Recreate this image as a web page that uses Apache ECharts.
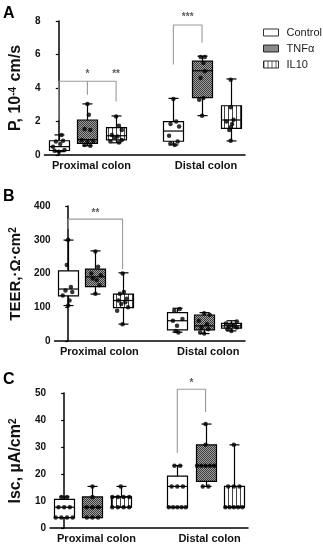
<!DOCTYPE html>
<html><head><meta charset="utf-8">
<script src="https://cdn.jsdelivr.net/npm/echarts@6/dist/echarts.min.js"></script>
<style>html,body{margin:0;padding:0;background:#fff}#c{width:323px;height:550px}</style>
</head><body><div id="c"></div>
<script>
// ---------- data ----------
const regions = ['Proximal colon', 'Distal colon'];
const treatments = ['Control', 'TNFα', 'IL10'];
const slotKeys = ['P-Control', 'P-TNF', 'P-IL10', 'gap', 'D-Control', 'D-TNF', 'D-IL10'];
const groupSlots = [0, 1, 2, 4, 5, 6];
const groupTreat = [0, 1, 2, 0, 1, 2];
const panelLetters = ['A', 'B', 'C'];
const yNames = ['P, 10{sup|-4} cm/s', 'TEER,·Ω·cm{sup|2}', 'Isc, µA/cm{sup|2}'];
const yMaxes = [8, 400, 50];
const yIntervals = [2, 100, 10];

// box stats: [min, q1, median, q3, max]
const boxA = [[0.2, 0.27, 0.5, 0.85, 1.2], [0.55, 0.7, 0.92, 2.09, 3.05], [0.73, 0.9, 1.15, 1.63, 2.33],
              [0.6, 0.82, 1.43, 1.99, 3.38], [2.35, 3.42, 5.03, 5.6, 5.9], [0.84, 1.59, 2.09, 2.94, 4.54]];
const ptsA = [[1.2, 0.85, 0.8, 0.65, 0.5, 0.3, 0.25, 0.2],
              [3.05, 2.4, 1.55, 1.5, 0.9, 0.85, 0.8, 0.6, 0.55],
              [2.3, 1.75, 1.5, 1.2, 1.1, 1.05, 0.9, 0.8, 0.75],
              [3.35, 2.0, 1.85, 1.7, 1.15, 0.8, 0.7, 0.6],
              [5.85, 5.85, 5.5, 5.0, 4.6, 3.4, 3.3, 2.35],
              [4.5, 2.85, 2.1, 2.0, 1.85, 1.65, 1.5, 0.85]];
const jitA = [[0.1, 0.15, -0.1, 0.05, -0.2, 0.2, -0.15, 0.0],
              [0.0, 0.05, -0.1, 0.1, -0.2, 0.2, 0.0, -0.1, 0.1],
              [0.0, 0.1, 0.2, -0.15, 0.05, -0.05, 0.2, -0.2, 0.1],
              [0.0, 0.1, -0.1, 0.2, -0.15, 0.15, -0.1, 0.05],
              [-0.05, 0.1, 0.05, 0.1, -0.05, 0.05, -0.1, 0.0],
              [0.0, 0.0, 0.1, -0.15, 0.05, 0.0, -0.05, 0.0]];

const boxB = [[105, 134, 154, 208, 299], [139, 161, 190, 213, 267], [50, 99, 120, 139, 202],
              [26, 33, 60, 84, 97], [22, 33, 45, 77, 84], [30, 38, 45, 52, 60]];
const ptsB = [[300, 225, 160, 150, 145, 135, 120, 105],
              [265, 220, 200, 195, 185, 180, 165, 140],
              [200, 145, 140, 125, 120, 115, 110, 100, 90, 50],
              [95, 90, 65, 60, 45, 30, 25],
              [82, 78, 60, 50, 40, 35, 25, 22],
              [58, 52, 48, 45, 42, 40, 35, 30]];
const jitB = [[0.0, -0.05, 0.1, -0.1, 0.15, -0.2, 0.05, 0.0],
              [0.0, 0.1, -0.15, 0.2, -0.1, 0.05, 0.15, 0.0],
              [0.0, 0.05, -0.1, 0.15, -0.15, 0.1, -0.05, 0.2, -0.2, 0.0],
              [0.1, -0.1, 0.2, -0.15, 0.0, -0.05, 0.05],
              [0.0, 0.2, -0.2, 0.1, -0.1, 0.15, -0.15, 0.0],
              [0.2, -0.2, 0.0, 0.1, -0.1, 0.2, -0.15, 0.0]];

const boxC = [[3.85, 3.85, 7.7, 10.6, 11.5], [3.85, 3.85, 7.7, 11.5, 15.4], [7.7, 7.7, 11.5, 11.5, 15.4],
              [7.7, 7.7, 15.4, 19.2, 23.1], [15.4, 17.3, 23.1, 30.8, 38.5], [7.7, 7.7, 7.7, 15.4, 30.8]];
const ptsC = [[11.5, 11.5, 7.7, 7.7, 7.7, 3.85, 3.85, 3.85, 3.85],
              [15.4, 11.5, 7.7, 7.7, 7.7, 3.85, 3.85, 3.85],
              [15.4, 11.5, 11.5, 11.5, 11.5, 7.7, 7.7, 7.7, 7.7],
              [23.1, 23.1, 15.4, 15.4, 15.4, 7.7, 7.7, 7.7, 7.7, 7.7],
              [38.5, 30.8, 23.1, 23.1, 23.1, 23.1, 23.1, 15.4, 15.4],
              [30.8, 15.4, 15.4, 15.4, 7.7, 7.7, 7.7, 7.7, 7.7]];
const jitC = [[-0.1, 0.1, -0.2, 0, 0.2, -0.3, -0.1, 0.1, 0.3],
              [0, 0, -0.2, 0, 0.2, -0.2, 0, 0.2],
              [0, -0.3, -0.1, 0.1, 0.3, -0.3, -0.1, 0.1, 0.3],
              [-0.1, 0.1, -0.2, 0, 0.2, -0.3, -0.15, 0, 0.15, 0.3],
              [0, 0, -0.3, -0.15, 0, 0.15, 0.3, -0.1, 0.1],
              [0, -0.2, 0, 0.2, -0.3, -0.15, 0, 0.15, 0.3]];

// significance brackets (slot, value) polylines and star labels
const bracketsA = [[[0, 2.1], [0, 4.4], [2, 4.4], [2, 3.2]], [[1, 4.4], [1, 3.6]],
                   [[4, 5.4], [4, 7.76], [5, 7.76], [5, 6.7]]];
const starsA = [[1, 4.85, '*'], [2, 4.85, '**'], [4.5, 8.25, '***']];
const bracketsB = [[[0, 332], [0, 361], [2, 361], [2, 213]]];
const starsB = [[1, 378, '**']];
const bracketsC = [[[4, 27.8], [4, 51.4], [5, 51.4], [5, 43]]];
const starsC = [[4.5, 53.6, '*']];

const boxes = [boxA, boxB, boxC];
const points = [ptsA, ptsB, ptsC];
const jitters = [jitA, jitB, jitC];
const brackets = [bracketsA, bracketsB, bracketsC];
const stars = [starsA, starsB, starsC];

// ---------- styles ----------
const FF = "'Liberation Sans', Arial, Helvetica, sans-serif";
const gridTops = [21, 206, 393];
const gridLefts = [44, 44, 47];
const gridH = [134, 135, 135];
const nameGaps = [12, 16, 13];
const nameSizes = [16, 15, 16];

const tnfCanvas = document.createElement('canvas');
tnfCanvas.width = 2; tnfCanvas.height = 2;
let g = tnfCanvas.getContext('2d');
g.fillStyle = '#a0a0a0'; g.fillRect(0, 0, 2, 2);
g.fillStyle = '#3a3a3a'; g.fillRect(0, 0, 1, 1); g.fillRect(1, 1, 1, 1);
const ilCanvas = document.createElement('canvas');
ilCanvas.width = 4; ilCanvas.height = 4;
g = ilCanvas.getContext('2d');
g.fillStyle = '#ffffff'; g.fillRect(0, 0, 4, 4);
g.fillStyle = '#444444'; g.fillRect(0, 0, 1, 4);
const fills = ['#ffffff', {image: tnfCanvas, repeat: 'repeat'}, {image: ilCanvas, repeat: 'repeat'}];

function renderBox(params, api) {
  const x = api.value(0);
  const t = api.value(6);
  const p = [1, 2, 3, 4, 5].map(i => api.coord([x, api.value(i)]));
  const cx = Math.round(p[0][0]) + 0.5;
  const hw = 10, cw = 5;
  const ls = {stroke: '#000', lineWidth: 1.2};
  return {type: 'group', children: [
    {type: 'line', shape: {x1: cx, y1: p[4][1], x2: cx, y2: p[3][1]}, style: ls},
    {type: 'line', shape: {x1: cx, y1: p[1][1], x2: cx, y2: p[0][1]}, style: ls},
    {type: 'line', shape: {x1: cx - cw, y1: p[4][1], x2: cx + cw, y2: p[4][1]}, style: ls},
    {type: 'line', shape: {x1: cx - cw, y1: p[0][1], x2: cx + cw, y2: p[0][1]}, style: ls},
    {type: 'rect', shape: {x: cx - hw, y: p[3][1], width: 2 * hw, height: p[1][1] - p[3][1]},
     style: {fill: fills[t], stroke: '#000', lineWidth: 1.2}},
    {type: 'line', shape: {x1: cx - hw, y1: p[2][1], x2: cx + hw, y2: p[2][1]}, style: ls}
  ]};
}

const grids = [], xAxes = [], yAxes = [], series = [];
for (let i = 0; i < 3; i++) {
  grids.push({left: gridLefts[i], top: gridTops[i], width: 201, height: gridH[i]});
  xAxes.push({
    type: 'category', gridIndex: i, data: slotKeys,
    axisLine: {lineStyle: {color: '#000', width: 1.5}},
    axisTick: {alignWithLabel: true, length: 4, interval: (idx, v) => v !== 'gap', lineStyle: {color: '#000', width: 1.2}},
    axisLabel: {interval: (idx) => idx === 1 || idx === 5,
      formatter: (v, idx) => idx === 1 ? regions[0] : regions[1],
      fontFamily: FF, fontWeight: 'bold', fontSize: 11, color: '#111', margin: 5, padding: [0, 0, 0, 8]}
  });
  xAxes.push({type: 'value', gridIndex: i, min: -0.5, max: 6.5, show: false});
  yAxes.push({
    type: 'value', gridIndex: i, min: 0, max: yMaxes[i], interval: yIntervals[i],
    axisLine: {show: true, lineStyle: {color: '#000', width: 1.5}},
    axisTick: {show: true, length: 3, lineStyle: {color: '#000', width: 1.2}},
    splitLine: {show: false},
    axisLabel: {fontFamily: FF, fontWeight: 'bold', fontSize: 10, color: '#111', margin: 4},
    name: yNames[i], nameLocation: 'middle', nameGap: nameGaps[i],
    nameTextStyle: {fontFamily: FF, fontWeight: 'bold', fontSize: nameSizes[i], color: '#111',
      rich: {sup: {fontFamily: FF, fontWeight: 'bold', fontSize: 10, color: '#111', verticalAlign: 'top', padding: [0, 1, 0, 0]}}}
  });
  series.push({
    type: 'custom', xAxisIndex: 2 * i + 1, yAxisIndex: i, renderItem: renderBox, z: 2,
    encode: {x: 0, y: [1, 2, 3, 4, 5]},
    data: boxes[i].map((b, k) => [groupSlots[k], ...b, groupTreat[k]])
  });
  const pd = [];
  points[i].forEach((arr, k) => arr.forEach((v, j) => pd.push([groupSlots[k] + jitters[i][k][j], v])));
  series.push({type: 'scatter', xAxisIndex: 2 * i + 1, yAxisIndex: i, z: 3, symbol: 'circle', symbolSize: 4.5,
    itemStyle: {color: '#000'}, silent: true, data: pd});
  brackets[i].forEach(br => series.push({type: 'line', xAxisIndex: 2 * i + 1, yAxisIndex: i, data: br,
    symbol: 'none', clip: false, lineStyle: {color: '#9a9a9a', width: 1.1}, silent: true, z: 1}));
  series.push({type: 'scatter', xAxisIndex: 2 * i + 1, yAxisIndex: i, symbolSize: 2,
    itemStyle: {color: 'rgba(255,255,255,0)'},
    clip: false, silent: true, z: 4,
    label: {show: true, position: 'inside', formatter: p => p.data[2], fontFamily: FF, fontWeight: 'bold', fontSize: 10, color: '#333'},
    data: stars[i]});
}
treatments.forEach(t => series.push({type: 'scatter', name: t, xAxisIndex: 1, yAxisIndex: 0, data: []}));

const option = {
  animation: false,
  backgroundColor: '#fff',
  grid: grids, xAxis: xAxes, yAxis: yAxes, series: series,
  legend: {
    orient: 'vertical', left: 258, top: 21, itemWidth: 15, itemHeight: 7, itemGap: 3,
    textStyle: {fontFamily: FF, fontSize: 11, color: '#222', lineHeight: 13, padding: [0, 0, 0, 3]},
    selectedMode: false,
    data: treatments.map((t, k) => ({name: t, icon: 'rect',
      itemStyle: {color: fills[k], borderColor: '#000', borderWidth: 1}}))
  },
  graphic: panelLetters.map((L, i) => ({type: 'text', left: 3, top: [6, 189, 372][i],
    style: {text: L, font: 'bold 16px ' + FF, fill: '#000'}}))
};
const chart = echarts.init(document.getElementById('c'), null, {renderer: 'canvas'});
chart.setOption(option);
</script></body></html>
